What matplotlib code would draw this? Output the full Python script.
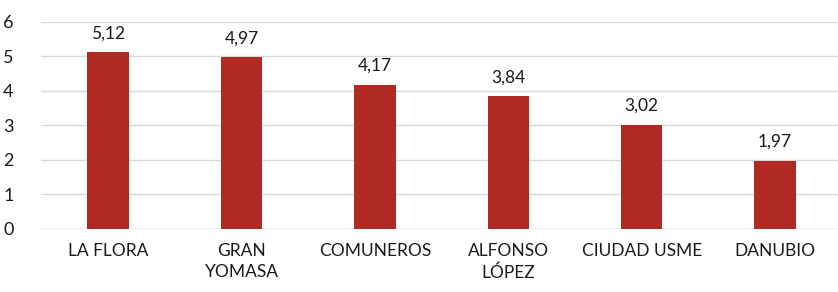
import matplotlib
matplotlib.use("Agg")
import matplotlib.pyplot as plt

categories = ["LA FLORA", "GRAN\nYOMASA", "COMUNEROS", "ALFONSO\nLÓPEZ", "CIUDAD USME", "DANUBIO"]
values = [5.12, 4.97, 4.17, 3.84, 3.02, 1.97]
yticks = [0, 1, 2, 3, 4, 5, 6]

plt.rcParams['font.family'] = ['Lato', 'DejaVu Sans']

fig = plt.figure(figsize=(8.38, 2.92), dpi=100)
ax = fig.add_axes([0.0495, 0.216, 0.955, 0.709])
x = list(range(len(categories)))
bars = ax.bar(x, values, width=0.31, color="#B02A24", zorder=3)
for xi, v in zip(x, values):
    ax.annotate(f"{v:.2f}".replace(".", ","), (xi, v), xytext=(0, 8),
                textcoords="offset points", ha="center", va="bottom",
                fontsize=12.5, color="#1a1a1a")
ax.set_xlim(-0.5, len(categories) - 0.5)
ax.set_ylim(0, 6)
ax.set_yticks(yticks)
ax.set_yticklabels([str(t) for t in yticks], fontsize=13, color="#1a1a1a")
ax.set_xticks(x)
ax.set_xticklabels(categories, fontsize=12.5, color="#1a1a1a", linespacing=1.4)
ax.yaxis.grid(True, color="#D9D9D9", linewidth=1, zorder=0)
ax.tick_params(axis="both", length=0)
ax.tick_params(axis="y", pad=20)
ax.tick_params(axis="x", pad=10)
for s in ax.spines.values():
    s.set_visible(False)
ax.axhline(0, color="#D9D9D9", linewidth=1, zorder=1)
fig.savefig("out.png", dpi=100)
